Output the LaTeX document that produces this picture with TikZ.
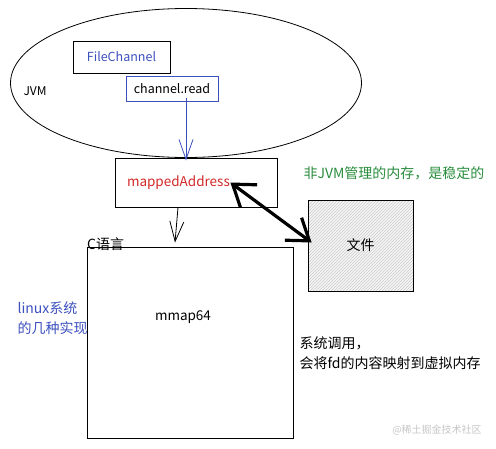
\documentclass[tikz,border=0pt]{standalone}
\usepackage{fontspec}
\setmainfont{Noto Sans CJK SC}
\usepackage{tikz}
\usetikzlibrary{
    arrows.meta,
    calc,
    positioning,
    patterns,
    shapes.geometric
}

\begin{document}
\begin{tikzpicture}[x=1pt, y=-1pt, >=Latex,
    box/.style={draw, thick, inner sep=0pt},
    note/.style={anchor=west, align=left, font=\fontsize{14}{20}\selectfont},
    openarrow/.style={line width=0.8pt, -{Straight Barb[length=20pt, width=14pt]}}]
    \useasboundingbox (0,0) rectangle (496,448);
    % JVM ellipse
    \node[ellipse, draw, thick, minimum width=351, minimum height=149] (jvm) at (186,83) {};
    \node[anchor=west, font=\fontsize{12}{14}\selectfont] (jvmlabel) at (20,91) {JVM};
    \node[box, minimum width=97, minimum height=32, text={rgb,255:red,60;green,80;blue,190},
        font=\fontsize{12.5}{14}\selectfont] (fc) at (121.5,57) {FileChannel};
    \node[box, draw={rgb,255:red,60;green,80;blue,190}, minimum width=92, minimum height=25,
        font=\fontsize{12.5}{14}\selectfont] (cr) at (172,88.5) {channel.read};
    % mapped address
    \node[box, minimum width=162, minimum height=49, text width=138, inner xsep=12,
        align=left, text={rgb,255:red,210;green,40;blue,40},
        font=\fontsize{13.5}{14}\itshape\selectfont] (ma) at (196,182.5) {mappedAddress};
    \draw[openarrow, color={rgb,255:red,60;green,80;blue,190}]
        ([xshift=14, yshift=3]cr.south) -- ([xshift=-10, yshift=-3]ma.north);
    \node[note, text={rgb,255:red,40;green,140;blue,60}] (stable) at (300,173) {非JVM管理的内存，是稳定的};
    % file
    \node[box, minimum width=105, minimum height=91, preaction={fill=gray!8},
        pattern=north east lines, pattern color=gray!40] (file) at (360.5,245.5) {};
    \node[font=\fontsize{14}{16}\selectfont] (filetxt) at (file.center) {文件};
    \draw[line width=3.2pt, {Straight Barb[length=20pt, width=28pt]}-{Straight Barb[length=20pt, width=28pt]}]
        ([xshift=-47]ma.east) -- ([shift={(4,-3)}]file.west);
    % C side
    \node[box, minimum width=206, minimum height=191] (mm) at (190,342.5) {};
    \node[font=\fontsize{13.5}{14}\selectfont] (mmtxt) at (183,317) {mmap64};
    \node[anchor=base west, font=\fontsize{14}{16}\selectfont, inner sep=1pt] (clang) at (86,249) {C语言};
    \draw[openarrow] ([xshift=-18]ma.south) -- ([xshift=-15, yshift=4]mm.north);
    \node[note, text={rgb,255:red,60;green,80;blue,190}] (linux) at (14,318) {linux系统\\的几种实现};
    \node[note] (syscall) at (296,353) {系统调用，\\会将fd的内容映射到虚拟内存};
    \node[text=gray!45, font=\fontsize{10}{12}\selectfont] (mark) at (437,430) {@稀土掘金技术社区};
\end{tikzpicture}
\end{document}
